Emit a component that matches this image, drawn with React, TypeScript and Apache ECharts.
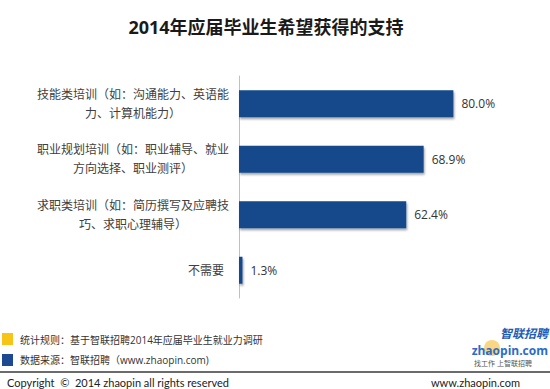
import React, { useEffect, useRef } from "react";
import * as echarts from "echarts";

const titleText = "2014年应届毕业生希望获得的支持";
const categories = [
  "技能类培训（如：沟通能力、英语能\n力、计算机能力）",
  "职业规划培训（如：职业辅导、就业\n方向选择、职业测评）",
  "求职类培训（如：简历撰写及应聘技\n巧、求职心理辅导）",
  "不需要",
];
const values = [80.0, 68.9, 62.4, 1.3];
const noteRule = "统计规则：基于智联招聘2014年应届毕业生就业力调研";
const noteSource = "数据来源：智联招聘（www.zhaopin.com)";
const copyright = "Copyright  ©  2014 zhaopin all rights reserved";
const siteUrl = "www.zhaopin.com";

const FONT = '"Open Sans", "Noto Sans CJK SC", sans-serif';
const FOOT_FONT = 'Lato, "Noto Sans CJK SC", sans-serif';

export default function App() {
  const ref = useRef<HTMLDivElement>(null);
  useEffect(() => {
    document.body.style.margin = "0";
    if (!ref.current) return;
    const chart = echarts.init(ref.current, undefined, { renderer: "svg" });
    chart.setOption({
      animation: false,
      backgroundColor: "#ffffff",
      textStyle: { fontFamily: FONT },
      grid: { left: 239, right: 43, top: 76, height: 222, containLabel: false },
      xAxis: {
        type: "value",
        min: 0,
        max: 100,
        show: false,
      },
      yAxis: {
        type: "category",
        inverse: true,
        data: categories,
        axisLine: { show: true, lineStyle: { color: "#c0c0c0", width: 1 } },
        axisTick: { show: false },
        splitLine: { show: false },
        axisLabel: {
          margin: 10,
          formatter: (v: string) => {
            const lines = v.split("\n");
            if (lines.length === 1) return `{s|${v}}`;
            return lines.map((l) => `{c|${l}}`).join("\n");
          },
          rich: {
            c: {
              width: 192,
              align: "center",
              fontSize: 12,
              lineHeight: 19,
              color: "#404040",
              fontFamily: FONT,
            },
            s: {
              fontSize: 12,
              lineHeight: 19,
              color: "#404040",
              padding: [0, 5, 0, 0],
              fontFamily: FONT,
            },
          },
        },
      },
      series: [
        {
          type: "bar",
          data: values,
          barWidth: 27,
          itemStyle: {
            color: "#144A8C",
            shadowColor: "rgba(0,0,0,0.35)",
            shadowBlur: 2,
            shadowOffsetX: 1,
            shadowOffsetY: 2,
          },
          label: {
            show: true,
            position: "right",
            distance: 8,
            fontSize: 12,
            color: "#333333",
            fontFamily: FONT,
            formatter: (p: any) => `${Number(p.value).toFixed(1)}%`,
          },
        },
      ],
      graphic: [
        {
          type: "text",
          x: 266,
          y: 27,
          style: {
            text: titleText,
            fontSize: 18,
            fontWeight: "bold",
            fill: "#1a1a1a",
            align: "center",
            verticalAlign: "middle",
            fontFamily: FONT,
          },
        },
        { type: "rect", shape: { x: 2, y: 333, width: 11, height: 12 }, style: { fill: "#F6C518" } },
        { type: "rect", shape: { x: 2, y: 354, width: 11, height: 12 }, style: { fill: "#1B4A93" } },
        {
          type: "text",
          x: 20,
          y: 340,
          style: { text: noteRule, fontSize: 10, fill: "#333", verticalAlign: "middle", fontFamily: FONT },
        },
        {
          type: "text",
          x: 20,
          y: 360,
          style: { text: noteSource, fontSize: 10, fill: "#333", verticalAlign: "middle", fontFamily: FONT },
        },
        {
          type: "circle",
          shape: { cx: 492, cy: 348, r: 8 },
          style: { fill: "rgba(245,180,30,0.55)" },
        },
        {
          type: "text",
          x: 548,
          y: 333,
          style: {
            text: "智联招聘",
            fontSize: 12,
            fontWeight: "bold",
            fontStyle: "italic",
            fill: "#1E5BB5",
            align: "right",
            verticalAlign: "middle",
            fontFamily: FONT,
          },
        },
        {
          type: "text",
          x: 548,
          y: 350,
          style: {
            text: "zhaopin.com",
            fontSize: 12,
            fontWeight: "bold",
            fill: "#2A6CC8",
            align: "right",
            verticalAlign: "middle",
            fontFamily: FONT,
          },
        },
        {
          type: "text",
          x: 503,
          y: 363,
          style: {
            text: "找工作 上智联招聘",
            fontSize: 7,
            fill: "#555",
            align: "center",
            verticalAlign: "middle",
            fontFamily: FONT,
          },
        },
        {
          type: "line",
          shape: { x1: 0, y1: 372, x2: 550, y2: 372 },
          style: { stroke: "#3a3a3a", lineWidth: 1.5 },
        },
        {
          type: "text",
          x: 7,
          y: 382,
          style: { text: copyright, fontSize: 11, fill: "#222", verticalAlign: "middle", fontFamily: FOOT_FONT },
        },
        {
          type: "text",
          x: 520,
          y: 382,
          style: { text: siteUrl, fontSize: 11, fill: "#222", align: "right", verticalAlign: "middle", fontFamily: FOOT_FONT },
        },
      ],
    });
    return () => chart.dispose();
  }, []);
  return <div ref={ref} style={{ width: 550, height: 389 }} />;
}
